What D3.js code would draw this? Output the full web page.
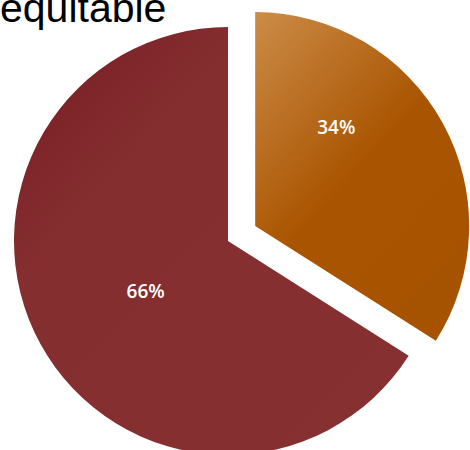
<!DOCTYPE html>
<html>
<head>
<meta charset="utf-8">
<script src="https://cdn.jsdelivr.net/npm/d3@7"></script>
<style>
  html, body { margin: 0; padding: 0; background: #fff; overflow: hidden; }
  svg { display: block; }
</style>
</head>
<body>
<svg id="chart" width="470" height="450"></svg>
<script>
// Share of responses
const categories = ["Yes", "No"];
const values = [34, 66];
const labels = ["34%", "66%"];
const title = "equitable";

const width = 470, height = 450;
const svg = d3.select("#chart");
const defs = svg.append("defs");

// Slice fills: soft diagonal gradients
const gradStops = [
  [["0%", "#cc8c48"], ["55%", "#a95400"], ["100%", "#a65300"]],
  [["0%", "#741a1f"], ["30%", "#852e30"], ["100%", "#873032"]]
];
gradStops.forEach((stops, i) => {
  const g = defs.append("linearGradient")
    .attr("id", "grad" + i)
    .attr("x1", "0%").attr("y1", "0%")
    .attr("x2", i === 0 ? "70%" : "100%").attr("y2", "100%");
  stops.forEach(([o, c]) => g.append("stop").attr("offset", o).attr("stop-color", c));
});

const cx = 228, cy = 241, radius = 214;
const explode = [31, 0];

const pie = d3.pie().sort(null).value(d => d)(values);
const arc = d3.arc().innerRadius(0).outerRadius(radius);

const slices = svg.append("g").attr("transform", `translate(${cx},${cy})`);

pie.forEach((p, i) => {
  const mid = (p.startAngle + p.endAngle) / 2;
  const dx = explode[i] * Math.sin(mid);
  const dy = -explode[i] * Math.cos(mid);
  const g = slices.append("g").attr("transform", `translate(${dx},${dy})`);
  g.append("path")
    .attr("d", arc(p))
    .attr("fill", `url(#grad${i})`);

  // label placement inside each slice (fraction of sweep, fraction of radius)
  const place = i === 0 ? [0.32, 0.6] : [0.49, 0.45];
  const a = p.startAngle + place[0] * (p.endAngle - p.startAngle);
  const r = place[1] * radius;
  g.append("text")
    .attr("x", r * Math.sin(a))
    .attr("y", -r * Math.cos(a))
    .attr("text-anchor", "middle")
    .attr("dominant-baseline", "central")
    .attr("fill", "#ffffff")
    .attr("font-family", "'Open Sans', sans-serif")
    .attr("font-weight", 600)
    .attr("font-size", 19)
    .text(labels[i]);
});

// Title, partly clipped at the top edge
svg.append("text")
  .attr("x", 0)
  .attr("y", 22)
  .attr("fill", "#000")
  .attr("font-family", "'Liberation Sans', Arial, sans-serif")
  .attr("font-size", 41)
  .text(title);
</script>
</body>
</html>
